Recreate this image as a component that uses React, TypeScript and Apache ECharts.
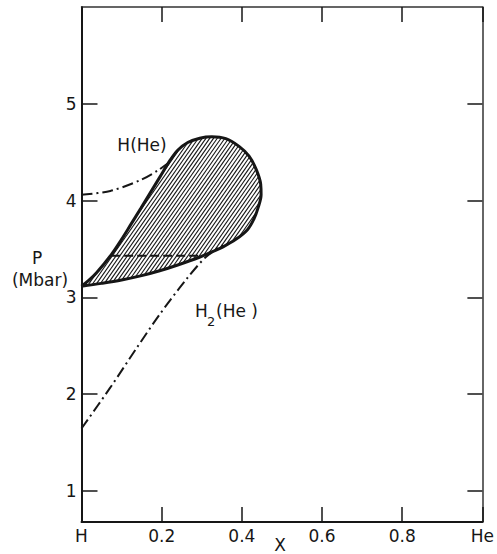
import React, { useEffect, useRef } from "react";
import * as echarts from "echarts";

// Closed boundary of the two-phase (hatched) region, starting and ending at the cusp on the H axis
const loopX = [
  0, 0.018, 0.037, 0.074, 0.1, 0.124, 0.148, 0.17, 0.195, 0.22, 0.24, 0.265, 0.295, 0.325, 0.36,
  0.393, 0.418, 0.436, 0.447, 0.448, 0.44, 0.43, 0.414, 0.385, 0.352, 0.325, 0.294, 0.24,
  0.195, 0.15, 0.1, 0.05, 0,
];
const loopP = [
  3.115, 3.175, 3.252, 3.44, 3.6, 3.76, 3.92, 4.07, 4.24, 4.41, 4.52, 4.6, 4.645, 4.66, 4.64,
  4.56, 4.46, 4.32, 4.17, 4.06, 3.92, 3.81, 3.7, 3.6, 3.52, 3.47, 3.415, 3.335,
  3.275, 3.225, 3.18, 3.145, 3.115,
];

// H(He) phase boundary (dash-dot)
const hX = [0, 0.072, 0.146, 0.19, 0.214];
const hP = [4.06, 4.1, 4.21, 4.31, 4.38];

// H2(He) phase boundary (dash-dot)
const h2X = [0, 0.072, 0.138, 0.196, 0.262, 0.311, 0.353];
const h2P = [1.646, 2.07, 2.48, 2.83, 3.19, 3.42, 3.54];

// Tie line across the hatched region
const tieX = [0.074, 0.295];
const tieP = [3.43, 3.43];

const yTicks = [1, 2, 3, 4, 5];
const xTickLabels: Record<string, string> = { "0": "H", "1": "He" };

const FONT = "DejaVu Sans";
const INK = "#161616";

const pairs = (xs: number[], ys: number[]) => xs.map((x, i) => [x, ys[i]]);

export default function App() {
  const ref = useRef<HTMLDivElement>(null);

  useEffect(() => {
    if (!ref.current) return;
    const chart = echarts.init(ref.current, undefined, { renderer: "svg" });

    // Diagonal hatching clipped to the loop outline, computed in pixel space
    const hatchItem = (_params: any, api: any) => {
      const pts: number[][] = loopX.map((x, i) => api.coord([x, loopP[i]]));
      const th = (55 * Math.PI) / 180;
      const dx = Math.cos(th), dy = -Math.sin(th);
      const nx = Math.sin(th), ny = Math.cos(th);
      const cs = pts.map((p) => p[0] * nx + p[1] * ny);
      const cmin = Math.min(...cs), cmax = Math.max(...cs);
      const step = 3.1;
      const children: any[] = [];
      for (let c = cmin + step / 2; c < cmax; c += step) {
        const hits: number[][] = [];
        for (let i = 0; i < pts.length - 1; i++) {
          const c1 = cs[i], c2 = cs[i + 1];
          if ((c1 - c) * (c2 - c) < 0) {
            const f = (c - c1) / (c2 - c1);
            const px = pts[i][0] + f * (pts[i + 1][0] - pts[i][0]);
            const py = pts[i][1] + f * (pts[i + 1][1] - pts[i][1]);
            hits.push([px, py, px * dx + py * dy]);
          }
        }
        hits.sort((a, b) => a[2] - b[2]);
        for (let k = 0; k + 1 < hits.length; k += 2) {
          children.push({
            type: "line",
            shape: { x1: hits[k][0], y1: hits[k][1], x2: hits[k + 1][0], y2: hits[k + 1][1] },
            style: { stroke: INK, lineWidth: 1.1 },
          });
        }
      }
      return { type: "group", children };
    };

    const txt = { fontFamily: FONT, fill: INK, fontSize: 17 };

    chart.setOption({
      animation: false,
      grid: { left: 81.5, right: 12, top: 7, bottom: 32, containLabel: false },
      xAxis: [
        {
          type: "value",
          min: 0,
          max: 1,
          interval: 0.2,
          position: "bottom",
          axisLine: { show: true, onZero: false, lineStyle: { color: INK, width: 2 } },
          axisTick: { inside: true, length: 15, lineStyle: { color: INK, width: 1.5 } },
          axisLabel: {
            fontFamily: FONT,
            fontSize: 17,
            color: INK,
            margin: 5,
            formatter: (v: number) => xTickLabels[String(v)] ?? v.toFixed(1),
          },
          splitLine: { show: false },
        },
        {
          type: "value",
          min: 0,
          max: 1,
          interval: 0.2,
          position: "top",
          axisLine: { show: true, onZero: false, lineStyle: { color: "#333", width: 1.5 } },
          axisTick: { inside: true, length: 15, lineStyle: { color: INK, width: 1.5 } },
          axisLabel: { show: false },
          splitLine: { show: false },
        },
      ],
      yAxis: [
        {
          type: "value",
          min: 0.68,
          max: 6,
          position: "left",
          axisLine: { show: true, onZero: false, lineStyle: { color: INK, width: 2 } },
          axisTick: { inside: true, length: 16, customValues: yTicks, lineStyle: { color: INK, width: 1.5 } },
          axisLabel: { customValues: yTicks, fontFamily: FONT, fontSize: 17, color: INK, margin: 5 },
          splitLine: { show: false },
        },
        {
          type: "value",
          min: 0.68,
          max: 6,
          position: "right",
          axisLine: { show: true, onZero: false, lineStyle: { color: "#333", width: 1.5 } },
          axisTick: { inside: true, length: 15, customValues: yTicks, lineStyle: { color: INK, width: 1.5 } },
          axisLabel: { show: false },
          splitLine: { show: false },
        },
      ],
      series: [
        {
          type: "custom",
          silent: true,
          renderItem: hatchItem,
          data: [[0, 0]],
          z: 1,
        },
        {
          type: "line",
          data: pairs(loopX, loopP),
          smooth: 0.35,
          showSymbol: false,
          silent: true,
          lineStyle: { color: INK, width: 3 },
          z: 3,
        },
        {
          type: "line",
          data: pairs(hX, hP),
          smooth: 0.3,
          showSymbol: false,
          silent: true,
          lineStyle: { color: INK, width: 2, type: [11, 4, 2, 4] },
          z: 2,
        },
        {
          type: "line",
          data: pairs(h2X, h2P),
          smooth: 0.3,
          showSymbol: false,
          silent: true,
          lineStyle: { color: INK, width: 2, type: [11, 4, 2, 4] },
          z: 2,
        },
        {
          type: "line",
          data: pairs(tieX, tieP),
          showSymbol: false,
          silent: true,
          lineStyle: { color: INK, width: 2, type: [9, 4] },
          z: 2,
        },
      ],
      graphic: [
        { type: "text", x: 142, y: 145, style: { ...txt, text: "H(He)", align: "center", verticalAlign: "middle" } },
        { type: "text", x: 195, y: 311, style: { ...txt, text: "H", align: "left", verticalAlign: "middle" } },
        { type: "text", x: 207, y: 321, style: { ...txt, fontSize: 13, text: "2", align: "left", verticalAlign: "middle" } },
        { type: "text", x: 216, y: 311, style: { ...txt, text: "(He )", align: "left", verticalAlign: "middle" } },
        { type: "text", x: 37, y: 258, style: { ...txt, text: "P", align: "center", verticalAlign: "middle" } },
        { type: "text", x: 40, y: 280, style: { ...txt, text: "(Mbar)", align: "center", verticalAlign: "middle" } },
        { type: "text", x: 280, y: 545, style: { ...txt, text: "X", align: "center", verticalAlign: "middle" } },
      ],
    });

    return () => chart.dispose();
  }, []);

  return (
    <div
      ref={ref}
      style={{ position: "fixed", left: 0, top: 0, width: 497, height: 554, background: "#fff" }}
    />
  );
}
